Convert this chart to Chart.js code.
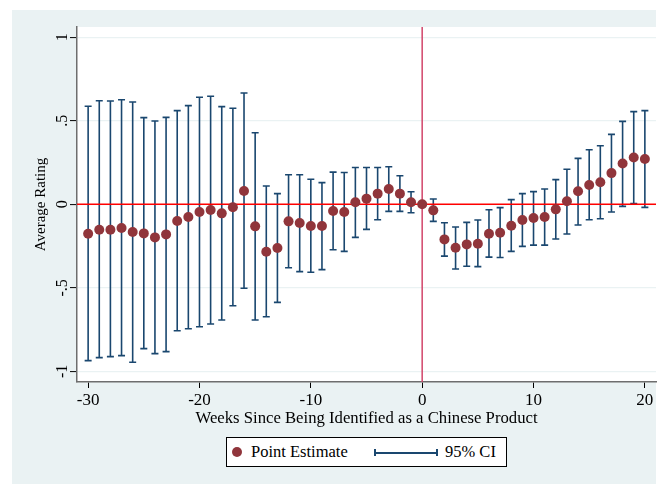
<!DOCTYPE html>
<html>
<head>
<meta charset="utf-8">
<script src="https://cdn.jsdelivr.net/npm/chart.js@4"></script>
<style>
  body { margin: 0; background: #fff; }
  #wrap { position: relative; width: 657px; height: 484px; }
  #bg { position: absolute; left: 12px; top: 10px; width: 644px; height: 474px; background: #eaf2f3; }
  canvas { position: absolute; left: 0; top: 0; }
  #legend {
    position: absolute; left: 226px; top: 437px; width: 279px; height: 28px;
    border: 1px solid #000; background: #fff;
    font-family: "Liberation Serif", "Times New Roman", serif; font-size: 16.5px; color: #000;
  }
  #legend .txt { position: absolute; top: 4px; line-height: 20px; white-space: nowrap; }
  .dot { position: absolute; left: 5px; top: 9px; width: 10px; height: 10px; border-radius: 50%; background: #90353b; }
  .ci-line { position: absolute; left: 147px; top: 14px; width: 63px; height: 1.5px; background: #1a476f; }
  .ci-cap { position: absolute; top: 11px; width: 1.5px; height: 7px; background: #1a476f; }
</style>
</head>
<body>
<div id="wrap">
  <div id="bg"></div>
  <canvas id="chart" width="657" height="484"></canvas>
  <div id="legend">
    <div class="dot"></div>
    <span class="txt" style="left:24px">Point Estimate</span>
    <div class="ci-line"></div>
    <div class="ci-cap" style="left:147px"></div>
    <div class="ci-cap" style="left:209px"></div>
    <span class="txt" style="left:218px">95% CI</span>
  </div>
</div>
<script>
// weeks relative to identification
const weeks = [-30,-29,-28,-27,-26,-25,-24,-23,-22,-21,-20,-19,-18,-17,-16,-15,-14,-13,-12,-11,-10,
  -9,-8,-7,-6,-5,-4,-3,-2,-1,0,1,2,3,4,5,6,7,8,9,10,11,12,13,14,15,16,17,18,19,20];

const estimate = [-0.176,-0.152,-0.152,-0.142,-0.166,-0.174,-0.198,-0.180,-0.100,-0.076,-0.046,
  -0.034,-0.054,-0.018,0.080,-0.132,-0.284,-0.262,-0.102,-0.112,-0.130,-0.130,-0.040,-0.046,
  0.012,0.034,0.064,0.092,0.064,0.012,0,-0.036,-0.210,-0.260,-0.240,-0.236,-0.176,-0.170,
  -0.128,-0.094,-0.082,-0.076,-0.030,0.018,0.078,0.116,0.132,0.187,0.245,0.281,0.271];

const ciHigh = [0.587,0.620,0.619,0.626,0.613,0.519,0.499,0.521,0.561,0.591,0.641,0.647,0.585,
  0.575,0.667,0.429,0.110,0.064,0.177,0.177,0.150,0.130,0.193,0.191,0.221,0.221,0.221,0.225,
  0.171,0.075,null,0.032,-0.110,-0.136,-0.108,-0.094,-0.032,-0.020,0.028,0.064,0.076,0.092,
  0.148,0.210,0.275,0.327,0.351,0.419,0.497,0.555,0.561];

const ciLow = [-0.936,-0.918,-0.912,-0.906,-0.946,-0.864,-0.894,-0.882,-0.757,-0.745,-0.733,
  -0.717,-0.693,-0.607,-0.503,-0.693,-0.673,-0.587,-0.380,-0.403,-0.407,-0.391,-0.272,-0.282,
  -0.198,-0.150,-0.092,-0.042,-0.042,-0.050,null,-0.102,-0.310,-0.387,-0.371,-0.373,-0.316,
  -0.318,-0.282,-0.252,-0.244,-0.244,-0.208,-0.178,-0.124,-0.092,-0.086,-0.046,-0.012,0.004,-0.018];

const xTicks = [-30, -20, -10, 0, 10, 20];
const yTicks = [-1, -0.5, 0, 0.5, 1];

const serif = "'Liberation Serif', 'Times New Roman', serif";

// white plot region
const plotBg = {
  id: "plotBg",
  beforeDraw(chart) {
    const { ctx, chartArea: a } = chart;
    ctx.save();
    ctx.fillStyle = "#ffffff";
    ctx.fillRect(a.left, a.top, a.right - a.left, a.bottom - a.top);
    ctx.restore();
  },
};

// confidence interval whiskers + reference lines
const errorBars = {
  id: "errorBars",
  beforeDatasetsDraw(chart) {
    const { ctx, chartArea: a } = chart;
    const xs = chart.scales.x, ys = chart.scales.y;
    ctx.save();
    ctx.strokeStyle = "#1a476f";
    ctx.lineWidth = 1.6;
    weeks.forEach((w, i) => {
      if (ciLow[i] === null) return;
      const px = xs.getPixelForValue(w);
      const lo = ys.getPixelForValue(ciLow[i]);
      const hi = ys.getPixelForValue(ciHigh[i]);
      ctx.beginPath();
      ctx.moveTo(px, lo); ctx.lineTo(px, hi);
      ctx.moveTo(px - 3.5, lo); ctx.lineTo(px + 3.5, lo);
      ctx.moveTo(px - 3.5, hi); ctx.lineTo(px + 3.5, hi);
      ctx.stroke();
    });
    // y = 0 line
    const y0 = ys.getPixelForValue(0);
    ctx.strokeStyle = "#ff0000";
    ctx.lineWidth = 1.5;
    ctx.beginPath();
    ctx.moveTo(a.left, y0); ctx.lineTo(a.right, y0);
    ctx.stroke();
    // x = 0 line
    const x0 = xs.getPixelForValue(0);
    ctx.strokeStyle = "#d2456a";
    ctx.beginPath();
    ctx.moveTo(x0, a.top); ctx.lineTo(x0, a.bottom);
    ctx.stroke();
    ctx.restore();
  },
};

new Chart(document.getElementById("chart"), {
  type: "scatter",
  data: {
    datasets: [
      {
        label: "Point Estimate",
        data: weeks.map((w, i) => ({ x: w, y: estimate[i] })),
        backgroundColor: "#90353b",
        borderWidth: 0,
        pointRadius: 5,
        pointHoverRadius: 5,
      },
    ],
  },
  options: {
    responsive: false,
    devicePixelRatio: 1,
    animation: false,
    layout: { autoPadding: false, padding: { left: 12, top: 27, right: 1, bottom: 57 } },
    plugins: { legend: { display: false }, tooltip: { enabled: false } },
    scales: {
      x: {
        type: "linear",
        min: -31,
        max: 21,
        afterBuildTicks: (s) => { s.ticks = xTicks.map((v) => ({ value: v })); },
        afterFit: (s) => { s.height = 45; s.paddingLeft = 0; s.paddingRight = 0; },
        ticks: {
          font: { family: serif, size: 17 },
          color: "#000",
          padding: 2,
          maxRotation: 0,
          callback: (v) => String(v),
        },
        grid: { drawOnChartArea: false, tickLength: 6, tickColor: "#000", tickWidth: 1 },
        border: { color: "#6e6e6e", width: 1.5 },
        title: {
          display: true,
          text: "Weeks Since Being Identified as a Chinese Product",
          font: { family: serif, size: 16.7, lineHeight: 1 },
          color: "#000",
          padding: 0,
        },
      },
      y: {
        min: -1.064,
        max: 1.062,
        afterBuildTicks: (s) => { s.ticks = yTicks.map((v) => ({ value: v })); },
        afterFit: (s) => { s.width = 65; s.paddingTop = 0; s.paddingBottom = 0; },
        ticks: {
          font: { family: serif, size: 16 },
          color: "#000",
          padding: -1,
          minRotation: 90,
          maxRotation: 90,
          crossAlign: "center",
          callback: (v) => String(v).replace("0.", "."),
        },
        grid: { color: "#eaf2f3", lineWidth: 1.2, tickLength: 7, tickColor: "#000", tickWidth: 1 },
        border: { color: "#6e6e6e", width: 1.5 },
        title: {
          display: true,
          text: "Average Rating",
          font: { family: serif, size: 15, lineHeight: 1 },
          color: "#000",
          padding: { top: 22, bottom: 0 },
        },
      },
    },
  },
  plugins: [plotBg, errorBars],
});
</script>
</body>
</html>
